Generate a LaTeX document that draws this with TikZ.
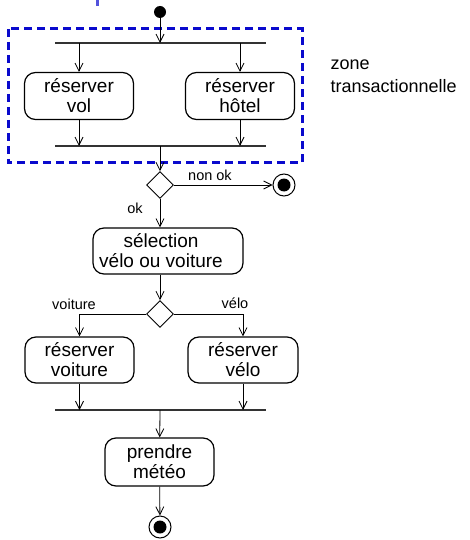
\documentclass[tikz,border=0pt]{standalone}
\usepackage{fontspec}
\setmainfont{Liberation Sans}
\usetikzlibrary{arrows.meta,shapes.geometric}
\definecolor{zoneblue}{RGB}{10,10,205}
\begin{document}
\begin{tikzpicture}[x=1pt,y=-1pt,
  act/.style={draw, rounded corners=11pt, line width=1.2pt, minimum width=109pt, minimum height=47pt, inner sep=0pt, align=center, font=\fontsize{19}{20}\selectfont},
  dec/.style={draw, diamond, aspect=1, minimum width=27pt, minimum height=27pt, inner sep=0pt, line width=0.9pt},
  bar/.style={line width=1.4pt, draw=black!80},
  flow/.style={line width=0.8pt, -{Straight Barb[length=8pt,width=8pt]}},
  lbl/.style={font=\fontsize{14.5}{16}\selectfont},
  startnode/.style={circle, fill, minimum size=12pt, inner sep=0pt},
  endnode/.style={circle, draw, line width=1pt, minimum size=22pt, inner sep=0pt,
    path picture={\fill (path picture bounding box.center) circle (6.5pt);}},
]
\useasboundingbox (0,0) rectangle (470,540);

% stray blue mark
\fill[zoneblue!70] (96,0) rectangle (98.5,6);

% transactional zone
\draw[zoneblue, line width=3pt, dash pattern=on 8pt off 5pt] (8,29) rectangle (302,163);
\node[anchor=north west, align=left, font=\fontsize{18}{23}\selectfont] (zone) at (327,56) {zone\\transactionnelle};

% nodes
\node[startnode] (start) at (160,12) {};
\node[act] (vol) at (79,96) {réserver\\vol};
\node[act] (hotel) at (240,96) {réserver\\hôtel};
\node[dec] (d1) at (160,185) {};
\node[endnode] (end1) at (284,185) {};
\node[act, minimum width=150pt, minimum height=46pt] (sel) at (168,251) {};
\node[font=\fontsize{19}{20}\selectfont, align=center] (seltxt) at (161,251) {sélection\\vélo ou voiture};
\node[dec] (d2) at (160,314) {};
\node[act, minimum height=46pt] (voit) at (79.5,360) {réserver\\voiture};
\node[act, minimum height=46pt, minimum width=110pt] (velo) at (243,360) {réserver\\vélo};
\node[act, minimum height=48pt] (met) at (159.5,462) {prendre\\météo};
\node[endnode] (end2) at (160,527) {};

% bars
\coordinate (f1l) at (55,43);
\coordinate (f1r) at (266,43);
\coordinate (f1c) at (160,43);
\coordinate (j1l) at (55,146);
\coordinate (j1r) at (266,146);
\coordinate (j1c) at (160,146);
\coordinate (j2l) at (55,410);
\coordinate (j2r) at (266,410);
\coordinate (j2c) at (160,410);
\draw[bar] (f1l) -- (f1r);
\draw[bar] (j1l) -- (j1r);
\draw[bar] (j2l) -- (j2r);

% flows
\draw[flow] (start) -- (f1c);
\draw[flow] (vol |- f1c) -- (vol);
\draw[flow] (hotel |- f1c) -- (hotel);
\draw[flow] (vol) -- (vol |- j1c);
\draw[flow] (hotel) -- (hotel |- j1c);
\draw[flow] (j1c) -- (d1);
\draw[flow] (d1) -- (end1);
\draw[flow] (d1.south) -- (d1.south |- sel.north);
\draw[flow] (sel.south -| d2) -- (d2);
\draw[flow] (d2.west) -| (voit.north);
\draw[flow] (d2.east) -| (velo.north);
\draw[flow] (voit) -- (voit |- j2c);
\draw[flow] (velo) -- (velo |- j2c);
\draw[flow] (j2c) -- (met);
\draw[flow] (met) -- (end2);

% labels
\node[lbl] (nonok) at (210,175) {non ok};
\node[lbl] (ok) at (135,208) {ok};
\node[lbl] (lvoit) at (74,304) {voiture};
\node[lbl] (lvelo) at (235,303) {vélo};
\end{tikzpicture}
\end{document}
